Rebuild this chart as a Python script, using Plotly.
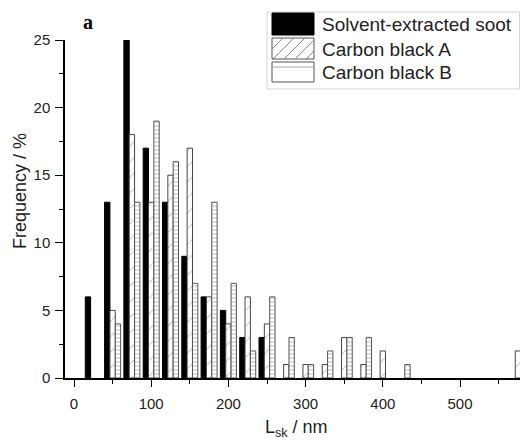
import plotly.graph_objects as go

# ---- data ----
bins = [25, 50, 75, 100, 125, 150, 175, 200, 225, 250, 275, 300, 325, 350,
        375, 400, 425, 450, 475, 500, 525, 550, 575]
soot = [6, 13, 25, 17, 13, 9, 6, 5, 3, 3, 0, 0, 0, 0, 0, 0, 0, 0, 0, 0, 0, 0, 0]
cb_a = [0, 5, 18, 13, 15, 17, 6, 4, 6, 4, 1, 1, 1, 3, 1, 2, 0, 0, 0, 0, 0, 0, 2]
cb_b = [0, 4, 13, 19, 16, 7, 13, 7, 2, 6, 3, 1, 2, 3, 3, 0, 1, 0, 0, 0, 0, 0, 0]
names = ["Solvent-extracted soot", "Carbon black A", "Carbon black B"]
x_ticks = [0, 100, 200, 300, 400, 500]
y_ticks = [0, 5, 10, 15, 20, 25]

FONT = "Liberation Sans, Arial, sans-serif"
TXT = "#222222"

# plot area in pixels
L, R, T, B = 65, 520, 40, 378
W, H = 520, 441


def px(x):
    return (x - L) / (R - L)


def py(y):
    return (B - y) / (B - T)


def nz(vals):
    # empty bins are not drawn
    return [v if v else None for v in vals]


fig = go.Figure()
fig.add_trace(go.Bar(x=bins, y=nz(soot), name=names[0],
                     marker=dict(color="black", line=dict(color="black", width=1))))
fig.add_trace(go.Bar(x=bins, y=nz(cb_a), name=names[1],
                     marker=dict(color="white", line=dict(color="#444444", width=1),
                                 pattern=dict(shape="/", size=11, solidity=0.08,
                                              fgcolor="#555555", bgcolor="white"))))
fig.add_trace(go.Bar(x=bins, y=nz(cb_b), name=names[2],
                     marker=dict(color="white", line=dict(color="#555555", width=1),
                                 pattern=dict(shape="-", size=4, solidity=0.25,
                                              fgcolor="#777777", bgcolor="white"))))

shapes = []
# legend frame
shapes.append(dict(type="rect", xref="paper", yref="paper",
                   x0=px(267), x1=px(519.5), y0=py(89), y1=py(12),
                   line=dict(color="#d4d4d4", width=1), fillcolor="white", layer="above"))
sx0, sx1 = 272, 314
rows = [(13, 35), (38, 59), (62, 82)]
# soot swatch
shapes.append(dict(type="rect", xref="paper", yref="paper",
                   x0=px(sx0), x1=px(sx1), y0=py(rows[0][1]), y1=py(rows[0][0]),
                   fillcolor="black", line=dict(color="black", width=1), layer="above"))
# carbon A swatch with diagonal hatch
a_top, a_bot = rows[1]
shapes.append(dict(type="rect", xref="paper", yref="paper",
                   x0=px(sx0), x1=px(sx1), y0=py(a_bot), y1=py(a_top),
                   fillcolor="white", line=dict(color="#555555", width=1), layer="above"))
hgt = a_bot - a_top
path = ""
for s in range(sx0 - hgt, sx1 + 1, 11):
    xa, ya = s, a_bot
    xb, yb = s + hgt, a_top
    if xa < sx0:
        ya = a_bot - (sx0 - xa)
        xa = sx0
    if xb > sx1:
        yb = a_top + (xb - sx1)
        xb = sx1
    if xb - xa < 1:
        continue
    path += f"M{px(xa)},{py(ya)} L{px(xb)},{py(yb)} "
shapes.append(dict(type="path", xref="paper", yref="paper", path=path,
                   line=dict(color="#888888", width=1), layer="above"))
# carbon B swatch
b_top, b_bot = rows[2]
shapes.append(dict(type="rect", xref="paper", yref="paper",
                   x0=px(sx0), x1=px(sx1), y0=py(b_bot), y1=py(b_top),
                   fillcolor="white", line=dict(color="#555555", width=1), layer="above"))
shapes.append(dict(type="line", xref="paper", yref="paper",
                   x0=px(sx0), x1=px(sx1), y0=py(67), y1=py(67),
                   line=dict(color="#aaaaaa", width=1), layer="above"))

annotations = []
for name, (t, b) in zip(names, rows):
    annotations.append(dict(xref="paper", yref="paper", x=px(320), y=py((t + b) / 2 + 0.5),
                            text=name, showarrow=False, xanchor="left", yanchor="middle",
                            font=dict(family=FONT, size=19, color=TXT)))
annotations.append(dict(xref="paper", yref="paper", x=px(20), y=py(191),
                        text="Frequency / %", textangle=-90, showarrow=False,
                        xanchor="center", yanchor="middle",
                        font=dict(family=FONT, size=18, color=TXT)))
annotations.append(dict(xref="paper", yref="paper", x=px(296), y=py(428),
                        text="L<sub>sk</sub> / nm", showarrow=False,
                        xanchor="center", yanchor="middle",
                        font=dict(family=FONT, size=18, color=TXT)))
annotations.append(dict(xref="paper", yref="paper", x=px(88), y=py(22),
                        text="<b>a</b>", showarrow=False,
                        xanchor="center", yanchor="middle",
                        font=dict(family="Liberation Serif, Times New Roman, serif",
                                  size=20, color="black")))

fig.update_layout(
    width=W, height=H,
    margin=dict(l=L, r=W - R, t=T, b=H - B),
    paper_bgcolor="white", plot_bgcolor="white",
    barmode="group", bargap=0.17, bargroupgap=0,
    showlegend=False,
    shapes=shapes, annotations=annotations,
    xaxis=dict(range=[-11.66, 577.7], tickvals=x_ticks, ticks="outside", ticklen=7,
               tickwidth=1.3, tickcolor="black", showline=True, linecolor="black",
               linewidth=1.5, showgrid=False, zeroline=False,
               tickfont=dict(family=FONT, size=15, color=TXT), ticklabelstandoff=4,
               minor=dict(dtick=50, tick0=0, ticks="outside", ticklen=4,
                          tickwidth=1.2, tickcolor="black", showgrid=False)),
    yaxis=dict(range=[0, 25], tickvals=y_ticks, ticks="outside", ticklen=8,
               tickwidth=1.3, tickcolor="black", showline=True, linecolor="black",
               linewidth=1.5, showgrid=False, zeroline=False,
               tickfont=dict(family=FONT, size=15, color=TXT), ticklabelstandoff=2,
               minor=dict(dtick=2.5, tick0=0, ticks="outside", ticklen=4,
                          tickwidth=1.2, tickcolor="black", showgrid=False)),
)

fig.write_html("out.html",
               config={"displayModeBar": False},
               post_script="document.body.style.margin='0px';document.body.style.overflow='hidden';")
